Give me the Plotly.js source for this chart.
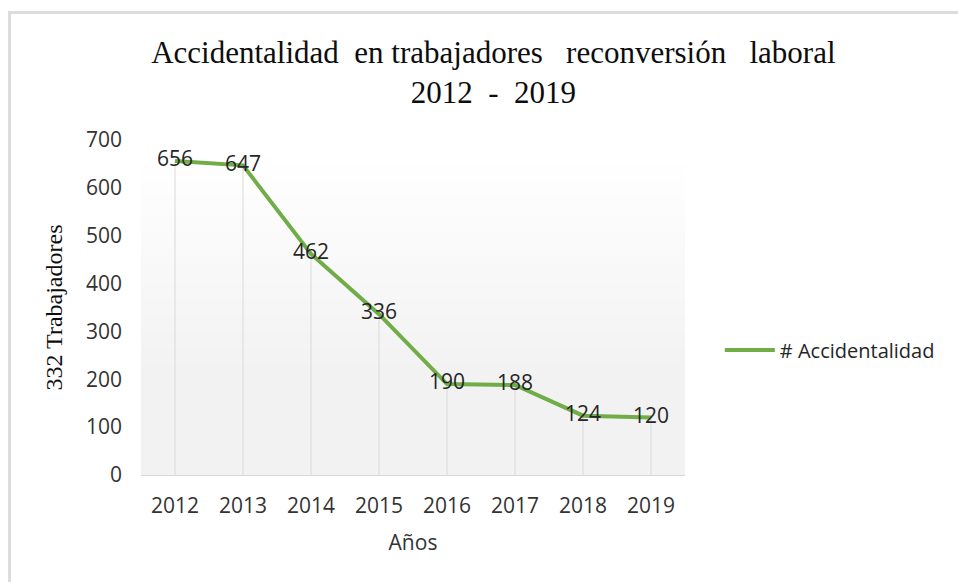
<!DOCTYPE html>
<html>
<head>
<meta charset="utf-8">
<script src="https://cdn.plot.ly/plotly-3.0.1.min.js"></script>
<style>
  html, body { margin: 0; padding: 0; background: #ffffff; }
  #frame { position: absolute; left: 8px; top: 11px; width: 1200px; height: 1200px;
           border: 3px solid #dcdcdc; box-sizing: border-box; }
  #chart { position: absolute; left: 0; top: 0; width: 958px; height: 582px; }
</style>
</head>
<body>
<div id="frame"></div>
<div id="chart"></div>
<script>
// ---- data ----
const years = ['2012', '2013', '2014', '2015', '2016', '2017', '2018', '2019'];
const accidents = [656, 647, 462, 336, 190, 188, 124, 120];
const yTicks = [0, 100, 200, 300, 400, 500, 600, 700];
const seriesName = '# Accidentalidad';

// ---- background gradient (styling only) ----
const shapes = [];
const N = 40;
for (let i = 0; i < N; i++) {
  const t0 = i / N, t1 = (i + 1) / N, tm = (t0 + t1) / 2;
  let f = (tm - 0.3) / 0.65;
  f = Math.max(0, Math.min(1, f));
  const c = Math.round(242 + (255 - 242) * f);
  shapes.push({
    type: 'rect', xref: 'paper', yref: 'paper', x0: 0, x1: 1, y0: t0, y1: t1 + 0.002,
    fillcolor: 'rgb(' + c + ',' + c + ',' + c + ')', line: { width: 0 }, layer: 'below'
  });
}

const dropLines = {
  x: years, y: accidents, type: 'scatter', mode: 'markers',
  marker: { size: 1, color: 'rgba(0,0,0,0)' },
  error_y: { type: 'data', symmetric: false, array: years.map(() => 0), arrayminus: accidents,
             color: '#d9d9d9', thickness: 1, width: 0 },
  showlegend: false, hoverinfo: 'skip'
};

const line = {
  x: years, y: accidents, type: 'scatter', mode: 'lines+text', name: seriesName,
  line: { color: '#70ad47', width: 4 },
  text: accidents.map(String), textposition: 'middle center',
  textfont: { family: 'Open Sans, sans-serif', size: 21, color: '#262626' },
  cliponaxis: false
};

const layout = {
  width: 958, height: 582,
  margin: { l: 141, r: 273, t: 140, b: 107, autoexpand: false },
  paper_bgcolor: 'rgba(0,0,0,0)',
  plot_bgcolor: '#f2f2f2',
  shapes: shapes,
  title: {
    text: 'Accidentalidad\u00a0 en trabajadores\u00a0\u00a0 reconversión\u00a0\u00a0 laboral<br>2012\u00a0 -\u00a0 2019',
    font: { family: 'Liberation Serif, Times New Roman, serif', size: 31, color: '#0d0d0d' },
    xref: 'container', yref: 'container', x: 0.515, xanchor: 'center', y: 0.892, yanchor: 'top'
  },
  xaxis: {
    type: 'category', range: [-0.5, 7.5],
    showline: true, linecolor: '#d9d9d9', linewidth: 1,
    showgrid: false, zeroline: false, ticks: '',
    ticklabelstandoff: 12,
    tickfont: { family: 'Open Sans, sans-serif', size: 21, color: '#333333' },
    title: { text: 'Años', standoff: 17,
             font: { family: 'Open Sans, sans-serif', size: 21, color: '#333333' } }
  },
  yaxis: {
    range: [0, 700], tickvals: yTicks,
    showline: false, showgrid: false, zeroline: false, ticks: '',
    ticklabelstandoff: 18,
    tickfont: { family: 'Open Sans, sans-serif', size: 21, color: '#333333' },
    title: { text: '332 Trabajadores', standoff: 16,
             font: { family: 'Liberation Serif, Times New Roman, serif', size: 24, color: '#0d0d0d' } }
  },
  showlegend: true,
  legend: {
    x: 1.064, xanchor: 'left', y: 0.373, yanchor: 'middle',
    bgcolor: 'rgba(0,0,0,0)', itemwidth: 50,
    font: { family: 'Open Sans, sans-serif', size: 20, color: '#262626' }
  }
};

Plotly.newPlot('chart', [dropLines, line], layout, { displayModeBar: false, staticPlot: true });
</script>
</body>
</html>
